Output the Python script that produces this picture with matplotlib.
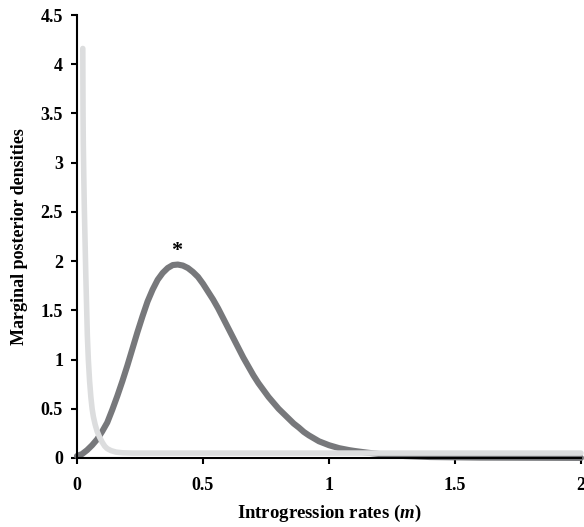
import matplotlib
matplotlib.use('Agg')
import matplotlib.pyplot as plt

# marginal posterior densities
m_dark = [0.00, 0.02, 0.04, 0.06, 0.08, 0.10, 0.12, 0.14, 0.16, 0.18, 0.20, 0.22,
          0.24, 0.26, 0.28, 0.30, 0.32, 0.34, 0.36, 0.38, 0.40, 0.42, 0.44, 0.46,
          0.48, 0.50, 0.52, 0.54, 0.56, 0.58, 0.60, 0.62, 0.64, 0.66, 0.68, 0.70,
          0.72, 0.74, 0.76, 0.78, 0.80, 0.82, 0.84, 0.86, 0.88, 0.90, 0.92, 0.94,
          0.96, 0.98, 1.00, 1.02, 1.04, 1.06, 1.08, 1.10, 1.12, 1.15, 1.20, 1.25,
          1.30, 1.40, 1.60, 2.00]
d_dark = [0.02, 0.04, 0.08, 0.13, 0.19, 0.27, 0.36, 0.49, 0.63, 0.78, 0.94, 1.11,
          1.28, 1.44, 1.59, 1.71, 1.81, 1.88, 1.93, 1.96, 1.965, 1.955, 1.93, 1.89,
          1.84, 1.77, 1.69, 1.61, 1.52, 1.42, 1.32, 1.22, 1.12, 1.02, 0.93, 0.84,
          0.76, 0.69, 0.62, 0.56, 0.50, 0.45, 0.40, 0.35, 0.31, 0.265, 0.23, 0.20,
          0.17, 0.15, 0.13, 0.115, 0.10, 0.09, 0.08, 0.072, 0.065, 0.055, 0.04, 0.03,
          0.02, 0.01, 0.004, 0.001]

m_light = [0.023, 0.0235, 0.024, 0.025, 0.027, 0.029, 0.032, 0.035, 0.038, 0.041,
           0.045, 0.050, 0.055, 0.060, 0.065, 0.072, 0.080, 0.090, 0.100, 0.110,
           0.120, 0.135, 0.155, 0.18, 0.22, 2.0]
d_light = [4.16, 3.8, 3.5, 3.2, 2.85, 2.55, 2.2, 1.85, 1.55, 1.25,
           1.0, 0.78, 0.62, 0.50, 0.42, 0.34, 0.27, 0.21, 0.16, 0.12,
           0.095, 0.075, 0.060, 0.053, 0.05, 0.05]

x_ticks = [0, 0.5, 1, 1.5, 2]
x_labels = ['0', '0.5', '1', '1.5', '2']
y_ticks = [0, 0.5, 1, 1.5, 2, 2.5, 3, 3.5, 4, 4.5]
y_labels = ['0', '0.5', '1', '1.5', '2', '2.5', '3', '3.5', '4', '4.5']

plt.rcParams['font.family'] = ['Liberation Serif', 'DejaVu Serif']
plt.rcParams['font.weight'] = 'bold'
plt.rcParams['mathtext.fontset'] = 'custom'
plt.rcParams['mathtext.rm'] = 'Liberation Serif:bold'
plt.rcParams['mathtext.bfit'] = 'Liberation Serif:italic:bold'

fig = plt.figure(figsize=(5.84, 5.27), dpi=100)
ax = fig.add_axes([77/584, 69/527, 504/584, 443/527])

ax.plot(m_dark, d_dark, color='#77787b', lw=4.4, solid_capstyle='round', clip_on=False, zorder=2)
ax.plot(m_light, d_light, color='#dcddde', lw=4.0, solid_capstyle='round', clip_on=False, zorder=3)

ax.text(0.397, 2.1, '*', ha='center', va='center', fontsize=16, fontweight='bold')

ax.set_xlim(0, 2)
ax.set_ylim(0, 4.5)
ax.set_xticks(x_ticks)
ax.set_xticklabels(x_labels)
ax.set_yticks(y_ticks)
ax.set_yticklabels(y_labels)
ax.spines['top'].set_visible(False)
ax.spines['right'].set_visible(False)
for s in ['left', 'bottom']:
    ax.spines[s].set_linewidth(1.5)
    ax.spines[s].set_zorder(4)
ax.tick_params(axis='both', direction='out', length=4, width=1.5, labelsize=13)
ax.tick_params(axis='x', pad=10)
ax.tick_params(axis='y', pad=6)

ax.set_xlabel(r'Introgression rates ($\mathbfit{m}$)', fontsize=13.5, fontweight='bold', labelpad=6)
ax.set_ylabel('Marginal posterior densities', fontsize=13, fontweight='bold', labelpad=9)

fig.savefig('out.png', dpi=100)
